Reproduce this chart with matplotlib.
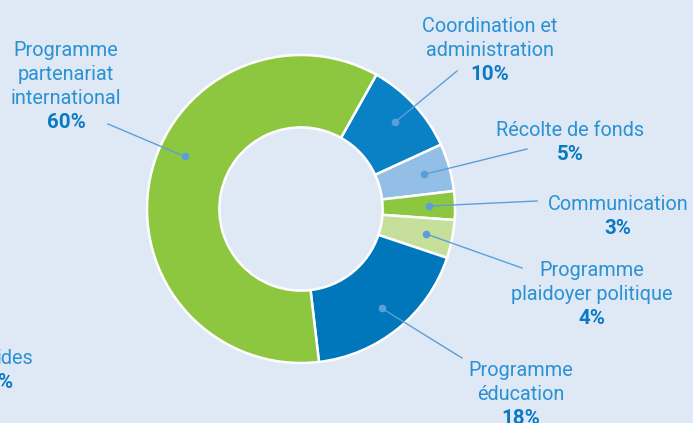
import numpy as np
import matplotlib.pyplot as plt

# Répartition des dépenses
labels = ['Coordination et\nadministration', 'Récolte de fonds', 'Communication',
          'Programme\nplaidoyer politique', 'Programme\néducation',
          'Programme\npartenariat\ninternational']
values = [10, 5, 3, 4, 18, 60]
colors = ['#0a81c4', '#93bee5', '#8dc63f', '#c6e09c', '#0077ba', '#8dc63f']

# centre x et centre de la 1re ligne (pixels depuis le haut)
text_pos = [(490, 24), (570, 128), (618, 202), (592, 268), (521, 368), (66, 48)]
line_end = [(457, 71), (527, 149), (537, 201), (522, 268), (462, 358), (108, 124)]
dot_shift = [0, 0, 0, 0, 0, -13]

bg = '#dfe9f5'
txt_col = '#2a91d3'
pct_col = '#0a79c3'
line_col = '#5b9fd8'
H = 423

fig = plt.figure(figsize=(6.93, 4.23), dpi=100, facecolor=bg)
ax = fig.add_axes([0, 0, 1, 1])
ax.set_facecolor(bg)

cx, cy, R = 301, H - 209, 154
wedges, _ = ax.pie(values, colors=colors, startangle=60.7, counterclock=False,
                   center=(cx, cy), radius=R, frame=True,
                   wedgeprops=dict(width=R * 0.47, edgecolor='white', linewidth=1.8))

ax.set_xlim(0, 693)
ax.set_ylim(0, H)
ax.set_aspect('equal')
ax.axis('off')

step = 24.3
for w, lab, v, tp, le, ds in zip(wedges, labels, values, text_pos, line_end, dot_shift):
    ang = np.deg2rad((w.theta1 + w.theta2) / 2 + ds)
    r = R * 0.83
    px, py = cx + r * np.cos(ang), cy + r * np.sin(ang)
    ax.plot([px, le[0]], [py, H - le[1]], color=line_col, lw=1)
    ax.plot(px, py, 'o', color=line_col, ms=4.5)
    lines = lab.split('\n')
    for i, s in enumerate(lines):
        ax.text(tp[0], H - (tp[1] + i * step), s, ha='center', va='center_baseline',
                fontsize=14.3, family='Roboto', color=txt_col)
    ax.text(tp[0], H - (tp[1] + len(lines) * step), f'{v}%', ha='center',
            va='center_baseline', fontsize=14.8, family='Roboto',
            fontweight='bold', color=pct_col)

# libellé coupé sur le bord gauche
ax.text(33, H - 357, 'ides', ha='right', va='center_baseline', fontsize=14.3,
        family='Roboto', color=txt_col)
ax.text(13, H - 381, '%', ha='right', va='center_baseline', fontsize=14.8,
        family='Roboto', fontweight='bold', color=pct_col)

fig.savefig('out.png', dpi=100, facecolor=bg)
